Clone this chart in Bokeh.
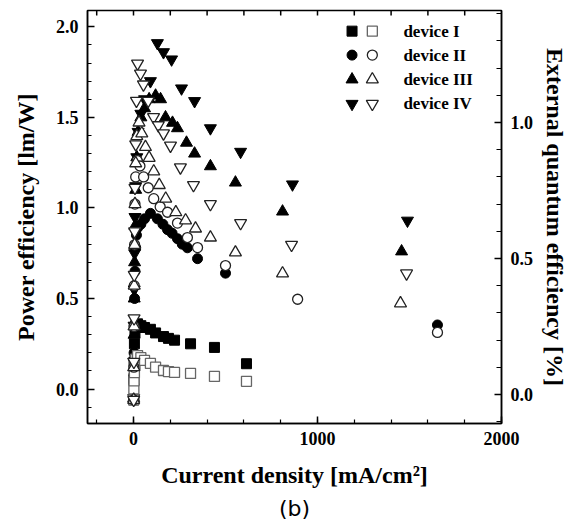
from bokeh.plotting import figure
from bokeh.models import (Range1d, LinearAxis, SingleIntervalTicker, Title,
                          NumeralTickFormatter)
from bokeh.embed import file_html
from bokeh.resources import INLINE
from bokeh.core.properties import value

# ---------------- data ----------------
# current density [mA/cm2]; power efficiency [lm/W] (filled) ; EQE [%] (open)
dev1_pe_x = [1, 2, 3, 5, 8, 12, 22, 40, 60, 92, 120, 163, 190, 223, 310, 440, 614]
dev1_pe_y = [-0.06, 0.05, 0.15, 0.25, 0.31, 0.35, 0.36, 0.35, 0.34, 0.33, 0.31, 0.29, 0.28, 0.27, 0.25, 0.23, 0.14]
dev1_eqe_x = [1, 2, 3, 5, 8, 12, 22, 40, 60, 92, 120, 163, 190, 223, 310, 440, 614]
dev1_eqe_y = [-0.02, 0.02, 0.05, 0.08, 0.11, 0.13, 0.143, 0.135, 0.125, 0.114, 0.10, 0.088, 0.084, 0.081, 0.077, 0.066, 0.048]

dev2_pe_x = [1, 2, 3, 4, 6, 8, 12, 16, 22, 40, 60, 92, 130, 160, 185, 210, 239, 265, 293, 348, 500, 1652]
dev2_pe_y = [-0.05, 0.08, 0.2, 0.35, 0.5, 0.65, 0.78, 0.85, 0.89, 0.91, 0.94, 0.97, 0.94, 0.91, 0.88, 0.86, 0.83, 0.80, 0.78, 0.72, 0.64, 0.354]
dev2_eqe_x = [1, 2, 3, 4, 6, 8, 12, 20, 35, 55, 80, 110, 145, 185, 239, 293, 348, 500, 892, 1652]
dev2_eqe_y = [-0.02, 0.1, 0.25, 0.4, 0.55, 0.7, 0.8, 0.86, 0.84, 0.80, 0.76, 0.72, 0.69, 0.67, 0.63, 0.577, 0.54, 0.474, 0.35, 0.228]

dev3_pe_x = [1, 2, 3, 4, 6, 8, 12, 18, 25, 40, 60, 85, 120, 147, 174, 212, 239, 288, 332, 418, 554, 810, 1457]
dev3_pe_y = [-0.05, 0.12, 0.3, 0.5, 0.7, 0.9, 1.1, 1.28, 1.42, 1.50, 1.55, 1.60, 1.62, 1.60, 1.50, 1.47, 1.44, 1.36, 1.30, 1.23, 1.14, 0.98, 0.76]
dev3_eqe_x = [1, 2, 3, 4, 6, 8, 12, 18, 30, 45, 65, 85, 110, 140, 175, 230, 283, 337, 418, 554, 810, 1451]
dev3_eqe_y = [-0.02, 0.1, 0.25, 0.4, 0.55, 0.7, 0.85, 0.95, 1.0, 0.96, 0.91, 0.87, 0.82, 0.77, 0.72, 0.67, 0.64, 0.61, 0.577, 0.522, 0.445, 0.335]

dev4_pe_x = [1, 2, 3, 4, 6, 8, 12, 18, 25, 40, 60, 92, 130, 163, 207, 261, 332, 418, 582, 864, 1489]
dev4_pe_y = [-0.05, 0.15, 0.35, 0.55, 0.75, 0.95, 1.12, 1.28, 1.42, 1.52, 1.6, 1.70, 1.91, 1.86, 1.82, 1.66, 1.59, 1.44, 1.31, 1.13, 0.93]
dev4_eqe_x = [1, 2, 3, 4, 6, 8, 12, 16, 22, 38, 54, 80, 109, 135, 163, 201, 255, 326, 418, 582, 859, 1484]
dev4_eqe_y = [-0.02, 0.12, 0.28, 0.44, 0.6, 0.76, 0.92, 1.08, 1.217, 1.18, 1.14, 1.08, 1.02, 0.99, 0.96, 0.915, 0.835, 0.77, 0.70, 0.63, 0.55, 0.445]

device_labels = ["device I", "device II", "device III", "device IV"]
markers = ["square", "circle", "triangle", "inverted_triangle"]
marker_sizes = [10, 10, 12, 12]

x_lim = (-250, 2000)
pe_lim = (-0.19, 2.09)
eqe_lim = (-0.107, 1.412)
top_tick_step = 200

FONT = "Liberation Serif"

p = figure(width=577, height=526, output_backend="svg", toolbar_location=None,
           x_range=Range1d(*x_lim), y_range=Range1d(*pe_lim),
           min_border_left=87, min_border_right=76, min_border_top=10,
           min_border_bottom=103)
p.extra_y_ranges = {"eqe": Range1d(*eqe_lim)}
p.grid.visible = False
p.outline_line_color = "black"
p.outline_line_width = 1.5
p.background_fill_color = "white"
p.border_fill_color = "white"

def style_axis(ax, label_size="18px"):
    ax.axis_line_color = "black"
    ax.axis_line_width = 1.5
    ax.major_tick_line_color = "black"
    ax.minor_tick_line_color = "black"
    ax.major_tick_line_width = 1.5
    ax.minor_tick_line_width = 1.2
    ax.major_tick_out = 0
    ax.minor_tick_out = 0
    ax.major_tick_in = 7
    ax.minor_tick_in = 4
    ax.major_label_text_font = FONT
    ax.major_label_text_font_style = "bold"
    ax.major_label_text_font_size = label_size
    ax.major_label_text_color = "black"
    ax.axis_label_text_font = FONT
    ax.axis_label_text_font_style = "bold"
    ax.axis_label_text_font_size = "24px"
    ax.axis_label_text_color = "black"

# bottom axis
xa = p.xaxis[0]
xa.ticker = SingleIntervalTicker(interval=1000, num_minor_ticks=5)
xa.formatter = NumeralTickFormatter(format="0")
style_axis(xa)
xa.axis_label = "Current density [mA/cm²]"
xa.major_label_standoff = 8
xa.axis_label_standoff = 14

# left axis
ya = p.yaxis[0]
ya.ticker = SingleIntervalTicker(interval=0.5, num_minor_ticks=5)
ya.formatter = NumeralTickFormatter(format="0.0")
style_axis(ya)
ya.axis_label = "Power efficiency [lm/W]"
ya.major_label_standoff = 9
ya.axis_label_standoff = 14

# right axis (EQE)
ra = LinearAxis(y_range_name="eqe",
                ticker=SingleIntervalTicker(interval=0.5, num_minor_ticks=5),
                formatter=NumeralTickFormatter(format="0.0"))
style_axis(ra)
ra.minor_tick_in = 5
ra.axis_label = "External quantum efficiency [%]"
ra.major_label_standoff = 9
ra.axis_label_standoff = 6
p.add_layout(ra, "right")

# top frame ticks (inward)
top_x = list(range(-top_tick_step, x_lim[1], top_tick_step))
tick_len = 0.012 * (pe_lim[1] - pe_lim[0])
p.segment(x0=top_x, y0=[pe_lim[1]] * len(top_x), x1=top_x,
          y1=[pe_lim[1] - tick_len] * len(top_x), line_color="black", line_width=1.5)

# figure caption
cap = Title(text="(b)", align="center", text_font="DejaVu Sans",
            text_font_size="22px", text_font_style="normal",
            text_color="black", offset=0, standoff=7)
p.add_layout(cap, "below")

series = [
    (dev1_pe_x, dev1_pe_y, dev1_eqe_x, dev1_eqe_y),
    (dev2_pe_x, dev2_pe_y, dev2_eqe_x, dev2_eqe_y),
    (dev3_pe_x, dev3_pe_y, dev3_eqe_x, dev3_eqe_y),
    (dev4_pe_x, dev4_pe_y, dev4_eqe_x, dev4_eqe_y),
]

open_colors = ["#666666", "#222222", "#222222", "#222222"]

for (px_, py_, ex_, ey_), mk, sz in zip(series, markers, marker_sizes):
    p.scatter(px_, py_, marker=mk, size=sz, fill_color="black", line_color="black",
              line_width=1)
for (px_, py_, ex_, ey_), mk, sz, oc in zip(series, markers, marker_sizes, open_colors):
    p.scatter(ex_, ey_, marker=mk, size=sz, fill_color="white", line_color=oc,
              line_width=1.3, y_range_name="eqe")

# legend (positions as fractions of the frame)
def fx(f):
    return x_lim[0] + f * (x_lim[1] - x_lim[0])

def fy(f):
    return pe_lim[1] - f * (pe_lim[1] - pe_lim[0])

row_f = [0.05, 0.108, 0.167, 0.226]
for i in range(4):
    yy = fy(row_f[i])
    p.scatter([fx(0.639)], [yy], marker=markers[i], size=marker_sizes[i],
              fill_color="black", line_color="black")
    p.scatter([fx(0.688)], [yy], marker=markers[i], size=marker_sizes[i],
              fill_color="white", line_color=open_colors[i], line_width=1.3)
    p.text([fx(0.763)], [yy], text=[device_labels[i]], text_font=value(FONT),
           text_font_style="bold", text_font_size="17px", text_baseline="middle",
           text_align="left", text_color="black")

open("out.html", "w").write(file_html(p, INLINE))
